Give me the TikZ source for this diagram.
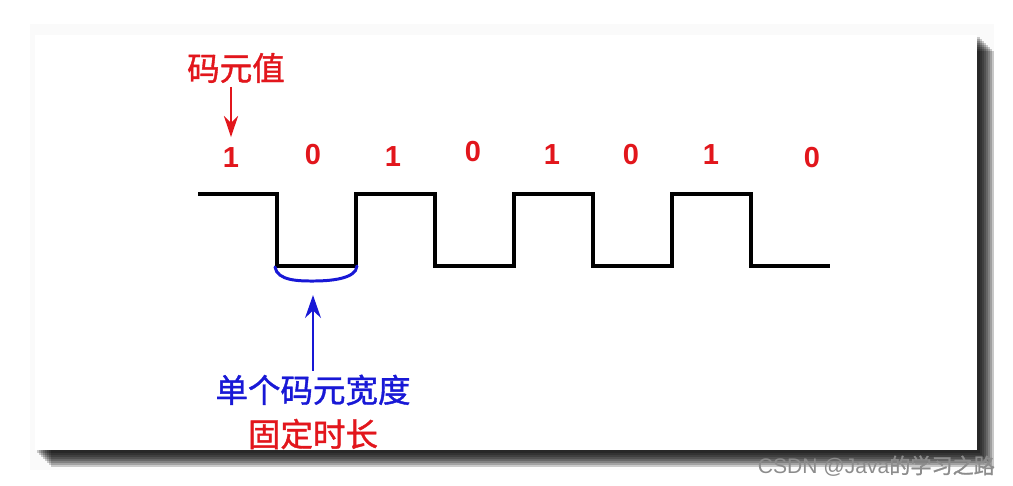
\documentclass[tikz,border=0pt]{standalone}
\usepackage{fontspec}
\setmainfont{Liberation Sans}
\newfontfamily\cjk{Noto Sans CJK SC}[FakeBold=1.2]
\usetikzlibrary{arrows.meta}
\definecolor{codered}{RGB}{226,22,28}
\definecolor{codeblue}{RGB}{24,24,214}
\tikzset{
  bitval/.style={font=\fontsize{16.5}{18}\selectfont\bfseries, text=codered, inner sep=3pt},
  cjklabel/.style={font=\cjk\fontsize{18.5}{21}\selectfont, inner sep=2pt},
  wave/.style={line width=2pt, line join=miter},
  redarrow/.style={draw=codered, line width=1.6pt, -{Stealth[length=12pt,width=8pt]}},
  bluearrow/.style={draw=codeblue, line width=1.6pt, -{Stealth[length=13pt,width=9pt]}},
}

\begin{document}
\begin{tikzpicture}[x=0.02cm, y=-0.02cm]
  \useasboundingbox (0,0) rectangle (1013,485);
  % panel with soft shadow
  \fill[black!2] (30,24) rectangle (994,470);
  \foreach \d in {15,13,...,1}
    \fill[black, opacity=0.2] (36+\d,36+\d) rectangle (979+\d,452+\d);
  \fill[white] (35,35) rectangle (977,450);

  \node[cjklabel, text=codered] (title) at (236,68) {码元值};
  \foreach \x/\y/\v [count=\i] in {231/158/1, 313/155/0, 393/157/1, 473/152/0,
                                   552/155/1, 631/155/0, 711/155/1, 812/158/0}
    \node[bitval] (b\i) at (\x,\y) {\v};
  \draw[redarrow, shorten >=3pt] (b1 |- title.south) -- (b1.north);

  % signal
  \draw[wave] (198,194) -| (277,266) -| (356,194) -| (435,266) -| (514,194)
    -| (593,266) -| (672,194) -| (751,266) -- (830,266);

  \coordinate (lowA) at (275,267);
  \coordinate (lowB) at (357,266);
  \coordinate (brace) at (313,281);
  \draw[codeblue, line width=1.7pt, line cap=round] (lowA) .. controls (277,281) and (300,281) .. (brace)
    .. controls (330,281) and (356,279) .. (lowB);

  \node[cjklabel, text=codeblue] (width) at (313,390) {单个码元宽度};
  \node[cjklabel, text=codered] (fixed) at (313,434) {固定时长};
  \draw[bluearrow, shorten >=8pt] (width.north) -- (brace);

  \node[font=\fontsize{12}{14}\selectfont, text=black!45, anchor=east] (mark) at (1001,466)
    {CSDN @Java{\cjk 的学习之路}};
\end{tikzpicture}
\end{document}
